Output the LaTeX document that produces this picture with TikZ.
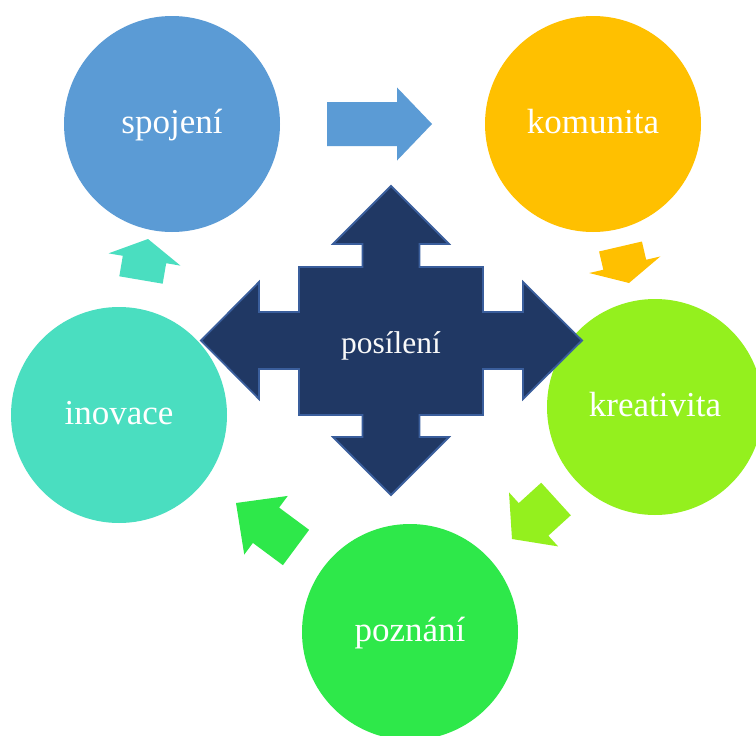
\documentclass[tikz,border=0pt]{standalone}
\usepackage{fontspec}
\setmainfont{Liberation Serif}
\usetikzlibrary{calc}
\definecolor{cBlue}{HTML}{5B9BD5}
\definecolor{cOrange}{HTML}{FFC000}
\definecolor{cLime}{HTML}{94F01E}
\definecolor{cGreen}{HTML}{2EE84A}
\definecolor{cTeal}{HTML}{4ADEC0}
\definecolor{cNavy}{HTML}{203864}
\definecolor{cNavyEdge}{HTML}{3A5E9C}
% #1 back coordinate, #2 tip coordinate, #3 fraction of shaft, #4 colour
\newcommand{\myblockarrow}[4]{%
  \path (#1) -- (#2) coordinate[pos=#3] (#1m);
  \fill[#4] ($(#1)!22pt!90:(#2)$) -- ($(#1m)!22pt!90:(#2)$) -- ($(#1m)!36.5pt!90:(#2)$)
    -- (#2) -- ($(#1m)!36.5pt!-90:(#2)$) -- ($(#1m)!22pt!-90:(#2)$) -- ($(#1)!22pt!-90:(#2)$) -- cycle;
}
\begin{document}
\begin{tikzpicture}[x=1pt,y=-1pt,
  circ/.style={circle, minimum size=216pt, inner sep=0pt, text=white,
    font=\fontsize{35}{40}\selectfont, text height=18pt, text depth=0pt},
  centertext/.style={inner sep=0pt, text=white!95!gray,
    font=\fontsize{31.5}{38}\selectfont, text height=18pt, text depth=0pt}]
\clip (0,0) rectangle (756,736);
\fill[white] (0,0) rectangle (756,736);
% circles
\node[circ, fill=cBlue]   (spojeni)    at (172,124) {spojení};
\node[circ, fill=cOrange] (komunita)   at (593,124) {komunita};
\node[circ, fill=cLime]   (kreativita) at (655,407) {kreativita};
\node[circ, fill=cGreen]  (poznani)    at (410,632) {poznání};
\node[circ, fill=cTeal]   (inovace)    at (119,415) {inovace};
% cycle arrows
\coordinate (a1b) at (327,124);   \coordinate (a1t) at (432,124);
\coordinate (a2b) at (620.5,246.5); \coordinate (a2t) at (629,283);
\coordinate (a3b) at (556,499);   \coordinate (a3t) at (512,539);
\coordinate (a4b) at (296,547.5); \coordinate (a4t) at (236,503);
\coordinate (a5b) at (141,280);   \coordinate (a5t) at (148,239);
\myblockarrow{a1b}{a1t}{0.667}{cBlue}
\myblockarrow{a2b}{a2t}{0.5}{cOrange}
\myblockarrow{a3b}{a3t}{0.51}{cLime}
\myblockarrow{a4b}{a4t}{0.5}{cGreen}
\myblockarrow{a5b}{a5t}{0.5}{cTeal}
% central four-way arrow
\filldraw[fill=cNavy, draw=cNavyEdge, line width=1.8pt, line join=miter]
  (391,186) -- (449,244) -- (419.5,244) -- (419.5,267) -- (483,267) -- (483,312)
  -- (523,312) -- (523,282) -- (582,340.5) -- (523,399) -- (523,369) -- (483,369)
  -- (483,415) -- (419.5,415) -- (419.5,437) -- (449,437) -- (391,495) -- (333,437)
  -- (362.5,437) -- (362.5,415) -- (299,415) -- (299,369) -- (259,369) -- (259,399)
  -- (201,340.5) -- (259,282) -- (259,312) -- (299,312) -- (299,267) -- (362.5,267)
  -- (362.5,244) -- (333,244) -- cycle;
\node[centertext] (posileni) at (391,344) {posílení};
\end{tikzpicture}
\end{document}
